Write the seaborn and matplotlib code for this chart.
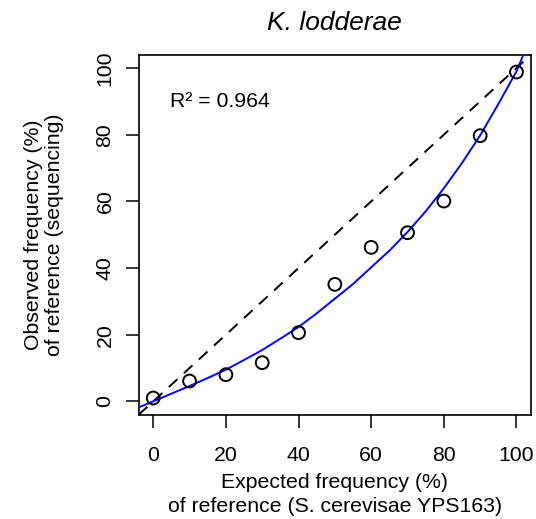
import matplotlib
matplotlib.use("Agg")
import matplotlib.pyplot as plt
import seaborn as sns
import pandas as pd

# Data
expected = [0, 10, 20, 30, 40, 50, 60, 70, 80, 90, 100]
observed = [1.0, 6.1, 8.0, 11.6, 20.6, 35.1, 46.2, 50.6, 60.1, 79.7, 98.8]

# fitted curve (blue)
curve_x = [-4, 0, 5, 10, 15, 20, 25, 30, 35, 40, 45, 50, 55, 60, 65, 70, 75, 80, 85, 90, 95, 100, 101.9]
curve_y = [-1.8, 0.0, 2.3, 4.6, 7.0, 9.5, 12.4, 15.4, 18.8, 22.3, 26.4, 30.8, 35.2, 40.2, 45.2, 50.8, 57.0, 63.9, 71.5, 79.8, 89.2, 99.0, 104.0]

ticks = [0, 20, 40, 60, 80, 100]
r2_text = "R\u00b2 = 0.964"
title = "K. lodderae"
xlabel = "Expected frequency (%)\nof reference (S. cerevisae YPS163)"
ylabel = "Observed frequency (%)\nof reference (sequencing)"

sns.set_theme(style="white")
plt.rcParams["font.family"] = ["Liberation Sans", "DejaVu Sans"]

FS = 15.3

fig = plt.figure(figsize=(5.36, 5.19), dpi=100)
ax = fig.add_axes([0.2588, 0.2010, 0.7319, 0.6936])

df_pts = pd.DataFrame({"expected": expected, "observed": observed})
df_curve = pd.DataFrame({"x": curve_x, "y": curve_y})

ax.axline((0, 0), slope=1, color="black", lw=1.4, dashes=(6, 4.5), zorder=2)
sns.lineplot(data=df_curve, x="x", y="y", ax=ax, color="#0000FF", lw=1.4,
             sort=False, estimator=None, zorder=3)
sns.scatterplot(data=df_pts, x="expected", y="observed", ax=ax, marker="o",
                s=85, facecolor="none", edgecolor="black", linewidth=1.4, zorder=4)

ax.set_xlim(-4, 104)
ax.set_ylim(-4, 104)
ax.set_xticks(ticks)
ax.set_yticks(ticks)
ax.set_xticklabels([str(t) for t in ticks], fontsize=FS)
ax.set_yticklabels([str(t) for t in ticks], fontsize=FS, rotation=90, va="center")
ax.tick_params(axis="both", which="both", direction="out", length=9.4, width=1.1,
               color="black", labelcolor="black", bottom=True, left=True)
ax.tick_params(axis="x", pad=13)
ax.tick_params(axis="y", pad=8)

for s in ax.spines.values():
    s.set_visible(True)
    s.set_color("black")
    s.set_linewidth(1.2)

ax.set_xlabel(xlabel, fontsize=FS, color="black", labelpad=6, linespacing=1.3)
ax.set_ylabel(ylabel, fontsize=FS, color="black", labelpad=23, linespacing=1.12)
ax.set_title(title, fontsize=19, style="italic", color="black", pad=17.5)

ax.text(4.5, 90, r2_text, fontsize=FS, ha="left", va="center", color="black")

fig.savefig("out.png", dpi=100)
